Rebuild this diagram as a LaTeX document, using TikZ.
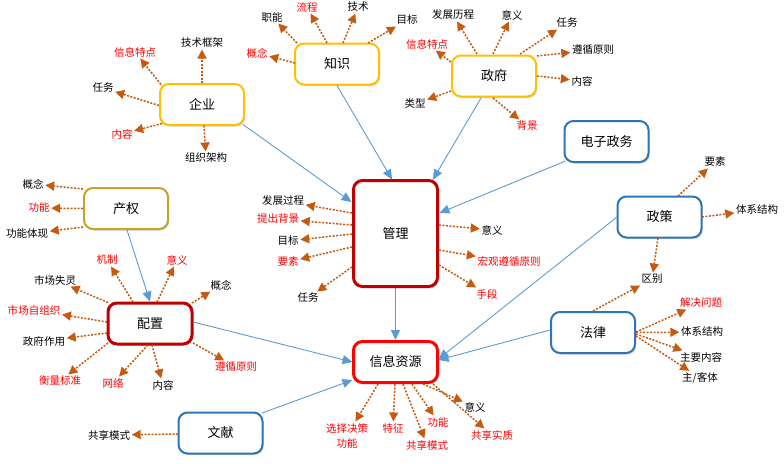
\documentclass[tikz,border=0pt]{standalone}
\usepackage{fontspec}
\setmainfont{Noto Sans CJK SC}
\usetikzlibrary{arrows.meta,calc,shadows}
\definecolor{bxyellow}{HTML}{FFC000}
\definecolor{bxgold}{HTML}{C9A227}
\definecolor{bxdred}{HTML}{C00000}
\definecolor{bxred}{HTML}{FF0000}
\definecolor{bxblue}{HTML}{2E75B6}
\definecolor{lnblue}{HTML}{5B9BD5}
\definecolor{arorange}{HTML}{C55A11}
\definecolor{txred}{HTML}{FF0000}
\tikzset{
  box/.style={draw, rounded corners=9pt, fill=white, minimum width=84pt, minimum height=41pt,
    font=\fontsize{13}{15}\selectfont,
    drop shadow={shadow xshift=1.2pt, shadow yshift=-1.5pt, opacity=0.18, fill=black}},
  ybox/.style={box, draw=bxyellow, line width=2pt},
  gbox/.style={box, draw=bxgold, line width=2pt},
  dbox/.style={box, draw=bxdred, line width=3pt},
  rbox/.style={box, draw=bxred, line width=3pt},
  bbox/.style={box, draw=bxblue, line width=2pt},
  lbl/.style={font=\fontsize{10.5}{15}\selectfont, inner sep=1.5pt},
  rlbl/.style={lbl, text=txred},
  oa/.style={draw=arorange, line width=1.5pt, dash pattern=on 2pt off 1.5pt,
    -{Triangle[length=9pt,width=9pt]}, fill=none},
  ba/.style={draw=lnblue, line width=0.9pt, -{Triangle[length=10pt,width=9pt]}},
}
\begin{document}
\begin{tikzpicture}[x=1pt,y=-1pt]
\useasboundingbox (0,0) rectangle (784,463);
% main boxes
\node[ybox] (qy) at (202,104.5) {企业};
\node[ybox] (zs) at (337,64) {知识};
\node[ybox] (zf) at (494,76) {政府};
\node[bbox] (dz) at (606.5,141.5) {电子政务};
\node[gbox] (cq) at (126,208.5) {产权};
\node[dbox, minimum height=106pt] (gl) at (395.5,233.5) {管理};
\node[bbox] (zc) at (659.5,217) {政策};
\node[dbox] (pz) at (150,323.5) {配置};
\node[bbox] (fl) at (593,332.5) {法律};
\node[rbox] (xx) at (395.5,362) {信息资源};
\node[bbox] (wx) at (220.5,433) {文献};

% labels: 企业
\node[lbl]  (q1) at (202,43) {技术框架};
\node[rlbl] (q2) at (135,52) {信息特点};
\node[lbl]  (q3) at (103,88) {任务};
\node[rlbl] (q4) at (122,134) {内容};
\node[lbl]  (q5) at (206,158) {组织架构};
% 知识
\node[lbl]  (s1) at (272,17) {职能};
\node[rlbl] (s2) at (307,7) {流程};
\node[lbl]  (s3) at (358,7) {技术};
\node[lbl]  (s4) at (407,20) {目标};
\node[rlbl] (s5) at (257,53) {概念};
% 政府
\node[lbl]  (f1) at (453,15) {发展历程};
\node[lbl]  (f2) at (512,15) {意义};
\node[lbl]  (f3) at (567,23) {任务};
\node[lbl]  (f4) at (593,50) {遵循原则};
\node[lbl]  (f5) at (582,81) {内容};
\node[rlbl] (f6) at (427,44) {信息特点};
\node[lbl]  (f7) at (415,104) {类型};
\node[rlbl] (f8) at (527,126) {背景};
% 产权
\node[lbl]  (c1) at (33,184) {概念};
\node[rlbl] (c2) at (39,208) {功能};
\node[lbl]  (c3) at (27,234) {功能体现};
% 配置
\node[rlbl] (p1) at (107,260) {机制};
\node[rlbl] (p2) at (177,260) {意义};
\node[lbl]  (p3) at (221,285) {概念};
\node[lbl]  (p4) at (55,280) {市场失灵};
\node[rlbl] (p5) at (34,310) {市场自组织};
\node[lbl]  (p6) at (44,341) {政府作用};
\node[rlbl] (p7) at (60,381) {衡量标准};
\node[rlbl] (p8) at (113,383) {网络};
\node[lbl]  (p9) at (163,385) {内容};
\node[rlbl] (p10) at (236,367) {遵循原则};
% 管理
\node[lbl]  (g1) at (283,201) {发展过程};
\node[rlbl] (g2) at (278,219) {提出背景};
\node[lbl]  (g3) at (288,241) {目标};
\node[rlbl] (g4) at (288,262) {要素};
\node[lbl]  (g5) at (308,298) {任务};
\node[lbl]  (g6) at (492,230) {意义};
\node[rlbl] (g7) at (509,262) {宏观遵循原则};
\node[rlbl] (g8) at (487,294) {手段};
% 政策
\node[lbl]  (z1) at (715,162) {要素};
\node[lbl]  (z2) at (757,210) {体系结构};
\node[lbl]  (qb) at (652,279) {区别};
% 法律
\node[rlbl] (l1) at (701,303) {解决问题};
\node[lbl]  (l2) at (702,332) {体系结构};
\node[lbl]  (l3) at (701,357) {主要内容};
\node[lbl]  (l4) at (700,378) {主/客体};
% 文献
\node[lbl]  (w1) at (109,435) {共享模式};
% 信息资源
\node[rlbl, align=center] (x1) at (347,435.5) {选择决策\\功能};
\node[rlbl] (x2) at (393,428) {特征};
\node[rlbl] (x3) at (427,445) {共享模式};
\node[rlbl] (x4) at (438,422) {功能};
\node[lbl]  (x5) at (475,407) {意义};
\node[rlbl] (x6) at (492,435) {共享实质};

% blue connectors
\draw[ba] ($(qy.center)+(41,20)$) -- ($(gl.center)+(-44,-31.5)$);
\draw[ba] (zs.south) -- ($(gl.center)+(-3.5,-54)$);
\draw[ba] ($(zf.center)+(-13,22)$) -- ($(gl.center)+(37.5,-54)$);
\draw[ba] ($(dz.center)+(-41,19.5)$) -- ($(gl.center)+(44,-20.5)$);
\draw[ba] (gl.south) -- (xx.north);
\draw[ba] ($(cq.center)+(1,21.5)$) -- ($(pz.center)+(0,-22)$);
\draw[ba] ($(pz.center)+(43,-1.5)$) -- ($(xx.center)+(-43,0)$);
\draw[ba] ($(zc.center)+(-42.5,0)$) -- ($(xx.center)+(43,-3)$);
\draw[ba] ($(fl.center)+(-43,-2.5)$) -- ($(xx.center)+(43,-2)$);
\draw[ba] ($(wx.center)+(41.5,-20)$) -- ($(xx.center)+(-43,18)$);

% orange arrows: 企业
\draw[oa] (qy.north) -- (q1);
\draw[oa] ($(qy.center)+(-41,-20)$) -- (q2);
\draw[oa] ($(qy.center)+(-43,1)$) -- (q3);
\draw[oa] ($(qy.center)+(-40,19)$) -- (q4);
\draw[oa] ($(qy.center)+(2,21)$) -- (q5);
% 知识
\draw[oa] ($(zs.center)+(-40,-21)$) -- (s1);
\draw[oa] ($(zs.center)+(-10,-21)$) -- (s2);
\draw[oa] ($(zs.center)+(6,-21)$) -- (s3);
\draw[oa] ($(zs.center)+(31,-21)$) -- (s4);
\draw[oa] ($(zs.center)+(-42,-1)$) -- (s5);
% 政府
\draw[oa] ($(zf.center)+(-17,-22)$) -- (f1);
\draw[oa] ($(zf.center)+(-1,-22)$) -- (f2);
\draw[oa] ($(zf.center)+(26,-22)$) -- (f3);
\draw[oa] ($(zf.center)+(43,-20)$) -- (f4);
\draw[oa] ($(zf.center)+(43,0)$) -- (f5);
\draw[oa] ($(zf.center)+(-43,-14)$) -- (f6);
\draw[oa] ($(zf.center)+(-43,15)$) -- (f7);
\draw[oa] ($(zf.center)+(-1,22)$) -- (f8);
% 产权
\draw[oa] ($(cq.center)+(-43,-19.5)$) -- (c1);
\draw[oa] ($(cq.center)+(-43,0)$) -- (c2);
\draw[oa] ($(cq.center)+(-43,18.5)$) -- (c3);
% 配置
\draw[oa] ($(pz.center)+(-17,-21.5)$) -- (p1);
\draw[oa] ($(pz.center)+(7,-21.5)$) -- (p2);
\draw[oa] ($(pz.center)+(42,-20.5)$) -- (p3);
\draw[oa] ($(pz.center)+(-42,-21)$) -- (p4);
\draw[oa] ($(pz.center)+(-43,-1.5)$) -- (p5);
\draw[oa] ($(pz.center)+(-43,9.5)$) -- (p6);
\draw[oa] ($(pz.center)+(-42,19.5)$) -- (p7);
\draw[oa] ($(pz.center)+(-2,21.5)$) -- (p8);
\draw[oa] ($(pz.center)+(2,21.5)$) -- (p9);
\draw[oa] ($(pz.center)+(43,19.5)$) -- (p10);
% 管理
\draw[oa] ($(gl.center)+(-43.5,-20.5)$) -- (g1);
\draw[oa] ($(gl.center)+(-43.5,-8.5)$) -- (g2);
\draw[oa] ($(gl.center)+(-43.5,0.5)$) -- (g3);
\draw[oa] ($(gl.center)+(-43.5,13.5)$) -- (g4);
\draw[oa] ($(gl.center)+(-43.5,33.5)$) -- (g5);
\draw[oa] ($(gl.center)+(43.5,-8.5)$) -- (g6);
\draw[oa] ($(gl.center)+(43.5,16.5)$) -- (g7);
\draw[oa] ($(gl.center)+(43.5,31.5)$) -- (g8);
% 政策
\draw[oa] ($(zc.center)+(18.5,-21)$) -- (z1);
\draw[oa] ($(zc.center)+(42.5,0)$) -- (z2);
\draw[oa] ($(zc.center)+(-1.5,21)$) -- (qb);
% 法律
\draw[oa] (fl.north) -- (qb);
\draw[oa] ($(fl.center)+(43,-0.5)$) -- (l1);
\draw[oa] ($(fl.center)+(43,0)$) -- (l2);
\draw[oa] ($(fl.center)+(43,1.5)$) -- (l3);
\draw[oa] ($(fl.center)+(43,3.5)$) -- (l4);
% 文献
\draw[oa] ($(wx.center)+(-42.5,1)$) -- (w1);
% 信息资源
\draw[oa] ($(xx.center)+(-17.5,22)$) -- (x1);
\draw[oa] ($(xx.center)+(-0.5,22)$) -- (x2);
\draw[oa] ($(xx.center)+(7.5,22)$) -- (x3);
\draw[oa] ($(xx.center)+(16.5,22)$) -- (x4);
\draw[oa] ($(xx.center)+(27.5,22)$) -- (x5);
\draw[oa] ($(xx.center)+(37.5,22)$) -- (x6);
\end{tikzpicture}
\end{document}
